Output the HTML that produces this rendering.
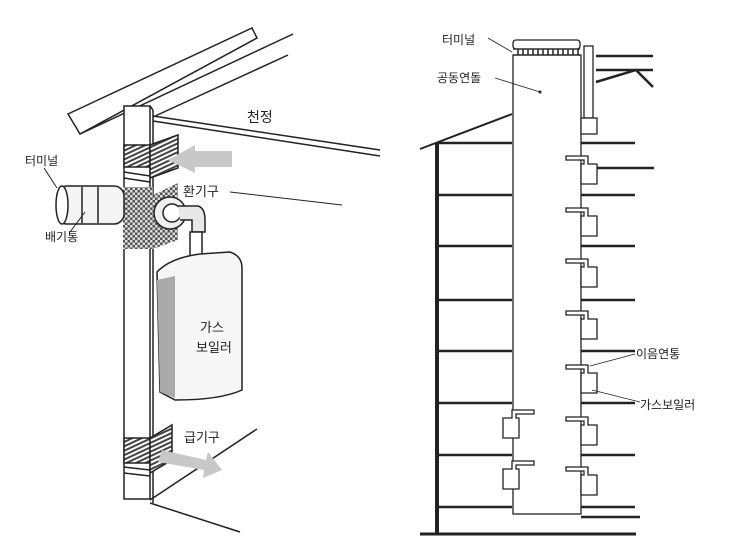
<!DOCTYPE html>
<html><head><meta charset="utf-8"><style>
html,body{margin:0;padding:0;background:#fff}
svg{display:block}
text{font-family:"Liberation Sans","Noto Sans CJK KR",sans-serif;fill:#222}
</style></head><body>
<svg width="740" height="558" viewBox="0 0 740 558" xmlns="http://www.w3.org/2000/svg">
<defs>
<pattern id="chk" width="5" height="5" patternUnits="userSpaceOnUse">
<rect width="5" height="5" fill="#555"/><rect width="2.5" height="2.5" fill="#ddd"/><rect x="2.5" y="2.5" width="2.5" height="2.5" fill="#ddd"/>
</pattern>
<pattern id="hat" width="4" height="4" patternUnits="userSpaceOnUse" patternTransform="rotate(-25)">
<rect width="4" height="4" fill="#fff"/><rect width="4" height="2" fill="#444"/>
</pattern>
</defs>
<g stroke="#222" stroke-width="1.5" fill="none">
<polygon points="68,114 252,28 257,38 80,134" fill="#fff"/>
<line x1="80" y1="134" x2="293" y2="34"/>
<line x1="153" y1="117" x2="288" y2="55"/>
<line x1="153" y1="116" x2="380" y2="150"/>
<line x1="153" y1="121" x2="380" y2="156"/>
<rect x="124" y="106" width="26" height="393" fill="#fff"/>
<line x1="150" y1="106" x2="153" y2="110"/>
<line x1="153" y1="110" x2="153" y2="503"/>
<rect x="124" y="145" width="26" height="22" fill="url(#hat)"/>
<polygon points="150,145 178,135 178,168 150,178" fill="url(#hat)"/>
<line x1="124" y1="172" x2="150" y2="176"/><line x1="124" y1="178" x2="150" y2="182"/>
<rect x="123" y="187" width="30" height="62" fill="url(#chk)" stroke="none"/>
<polygon points="153,195 178,183 178,240 153,249" fill="url(#chk)" stroke="none"/>
<rect x="57" y="186" width="67" height="38" rx="10" fill="#f4f4f4"/>
<ellipse cx="62" cy="205" rx="6" ry="19" fill="#fff"/>
<line x1="82" y1="187" x2="82" y2="223"/><line x1="98" y1="187" x2="98" y2="223"/>
<circle cx="170" cy="213" r="16" fill="#eee"/>
<circle cx="172" cy="213" r="9" fill="#fff"/>
<path d="M178,206 L198,206 Q205,208 205,220 L205,232 L192,232 L192,220 L180,220" fill="#e8e8e8"/>
<rect x="190" y="232" width="12" height="32" fill="#fff"/>
<path d="M157,272 Q170,258 200,254 L230,252 Q242,256 242,268 L242,390 Q220,400 175,400 L160,392 Z" fill="#f6f6f6"/>
<path d="M157,280 L175,276 L175,398 L160,392 Z" fill="#aaa" stroke="none"/>
<rect x="124" y="438" width="26" height="25" fill="url(#hat)"/>
<polygon points="150,438 172,425 172,460 150,473" fill="url(#hat)"/>
<line x1="124" y1="467" x2="150" y2="470"/><line x1="124" y1="473" x2="150" y2="476"/>
<line x1="257" y1="429" x2="150" y2="500"/>
<line x1="150" y1="503" x2="240" y2="532"/>
<line x1="230" y1="192" x2="342" y2="205" stroke-width="1"/>
<line x1="44" y1="168" x2="57" y2="188" stroke-width="1"/>
<line x1="70" y1="232" x2="85" y2="212" stroke-width="1"/>
</g>
<polygon points="232,151 195,151 195,145 168,160 195,173 195,167 232,167" fill="#c8c8c8"/>
<polygon points="162,450 206,460 208,452 222,470 203,478 204,470 158,462" fill="#c8c8c8"/>
<text x="247" y="122" font-size="14">천정</text>
<text x="183" y="196" font-size="13">환기구</text>
<text x="25" y="165" font-size="12">터미널</text>
<text x="45" y="241" font-size="12">배기통</text>
<text x="200" y="332" font-size="13">가스</text>
<text x="196" y="352" font-size="13">보일러</text>
<text x="184" y="442" font-size="13">급기구</text>

<g stroke="#222" fill="none">
<line x1="420" y1="149" x2="512" y2="114" stroke-width="2"/>
<line x1="437" y1="143" x2="437" y2="534" stroke-width="4"/>
<line x1="420" y1="534" x2="636" y2="534" stroke-width="3"/>
<g stroke-width="2.5">
<line x1="437" y1="143" x2="512" y2="143"/><line x1="437" y1="195" x2="512" y2="195"/>
<line x1="437" y1="246" x2="512" y2="246"/><line x1="437" y1="300" x2="512" y2="300"/>
<line x1="437" y1="351" x2="512" y2="351"/><line x1="437" y1="403" x2="512" y2="403"/>
<line x1="437" y1="455" x2="512" y2="455"/><line x1="437" y1="507" x2="512" y2="507"/>
<line x1="581" y1="143" x2="635" y2="143"/><line x1="581" y1="195" x2="635" y2="195"/>
<line x1="581" y1="246" x2="635" y2="246"/><line x1="581" y1="300" x2="635" y2="300"/>
<line x1="581" y1="351" x2="635" y2="351"/><line x1="581" y1="403" x2="635" y2="403"/>
<line x1="581" y1="455" x2="635" y2="455"/><line x1="581" y1="507" x2="635" y2="507"/>
<line x1="581" y1="517" x2="640" y2="517"/>
<line x1="581" y1="168" x2="654" y2="168"/>
<line x1="596" y1="56" x2="653" y2="56"/><line x1="596" y1="70" x2="653" y2="70"/>
<polyline points="596,82 636,70 653,87"/>
</g>
<g stroke-width="1.3">
<rect x="513" y="55" width="68" height="459" fill="#fff"/>
<rect x="513" y="40" width="67" height="9" rx="3"/>
<line x1="513" y1="49" x2="580" y2="49"/><line x1="513" y1="55" x2="580" y2="55"/>
<path d="M518,49v6M523,49v6M528,49v6M533,49v6M538,49v6M543,49v6M548,49v6M553,49v6M558,49v6M563,49v6M568,49v6M573,49v6M578,49v6" stroke-width="1.5"/>
<rect x="584" y="46" width="9" height="72" fill="#fff"/>
<rect x="581" y="118" width="16" height="16" fill="#fff"/>
<g id="b">
<path d="M566,156 h22 v8 h9 v20 h-16 v-20 h3 v-4 h-18 z" fill="#fff"/>
</g>
<use href="#b" y="52"/><use href="#b" y="103"/><use href="#b" y="155"/>
<use href="#b" y="209"/><use href="#b" y="261"/><use href="#b" y="311"/>
<path d="M534,410 h-22 v8 h-9 v20 h16 v-20 h-3 v-4 h18 z" fill="#fff"/>
<path d="M534,461 h-22 v8 h-9 v20 h16 v-20 h-3 v-4 h18 z" fill="#fff"/>
</g>
<g stroke-width="0.8">
<line x1="488" y1="38" x2="512" y2="52"/>
<line x1="495" y1="78" x2="540" y2="92"/>
<line x1="635" y1="354" x2="590" y2="366"/>
<line x1="592" y1="390" x2="640" y2="402"/>
</g>
</g>
<circle cx="540" cy="92" r="1.5" fill="#222"/>
<text x="442" y="44" font-size="12">터미널</text>
<text x="437" y="82" font-size="12">공동연돌</text>
<text x="636" y="358" font-size="12">이음연통</text>
<text x="640" y="409" font-size="12">가스보일러</text>
</svg>
</body></html>
